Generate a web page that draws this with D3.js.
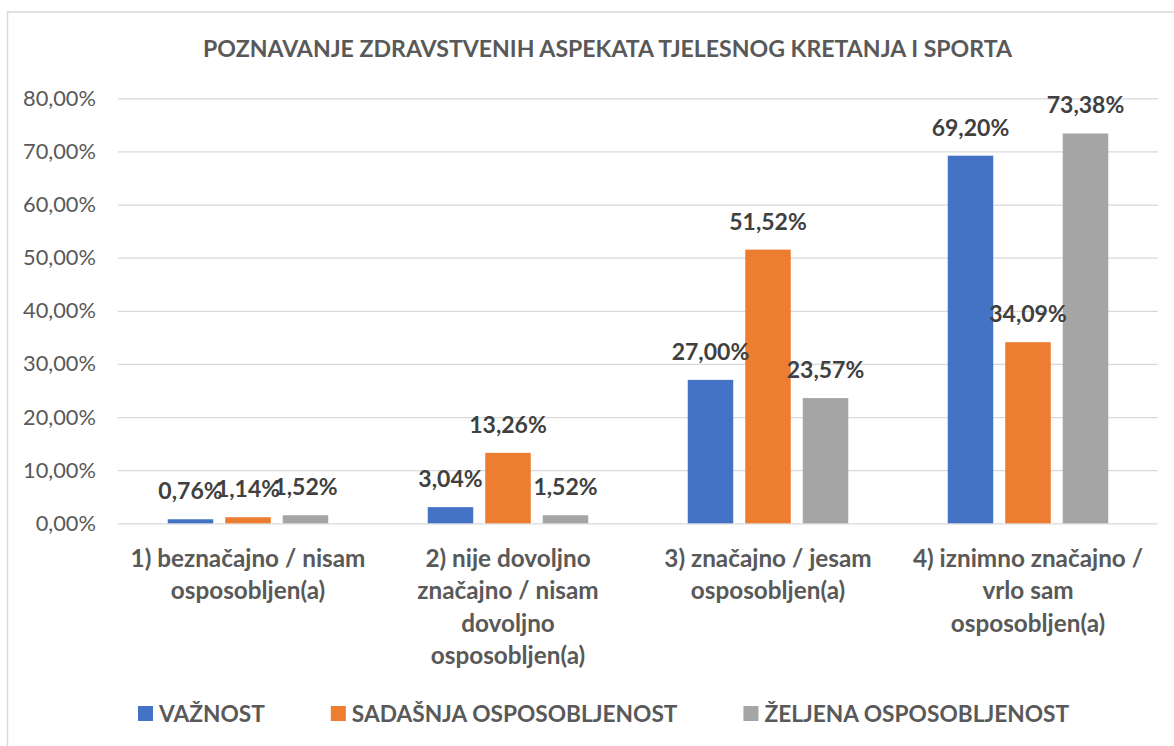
<!DOCTYPE html>
<html>
<head>
<meta charset="utf-8">
<script src="https://cdn.jsdelivr.net/npm/d3@7"></script>
<style>
    body { margin: 0; background: #fff; }
    text { font-family: Lato, "Open Sans", sans-serif; }
    .axis .domain { display: none; }
    .y-axis line { stroke: #d9d9d9; stroke-width: 1.3; }
    .y-axis text { fill: #595959; font-size: 21.8px; }
    .x-axis text { fill: #595959; font-size: 24.3px; font-weight: bold; }
    .bar-label { fill: #404040; font-size: 23px; font-weight: bold; }
    .chart-title { fill: #595959; font-size: 23.1px; font-weight: bold; }
    .legend text { fill: #595959; font-size: 22.7px; font-weight: bold; }
</style>
</head>
<body>
<div id="chart"></div>
<script>
// category labels (already split in lines like in the original)
const categories = [
    ["1) beznačajno / nisam", "osposobljen(a)"],
    ["2) nije dovoljno", "značajno / nisam", "dovoljno", "osposobljen(a)"],
    ["3) značajno / jesam", "osposobljen(a)"],
    ["4) iznimno značajno /", "vrlo sam", "osposobljen(a)"]
];
const seriesNames = ["VAŽNOST", "SADAŠNJA OSPOSOBLJENOST", "ŽELJENA OSPOSOBLJENOST"];
const seriesColors = ["#4472c4", "#ed7d31", "#a5a5a5"];

// values in %
const vaznost = [0.76, 3.04, 27.00, 69.20];
const sadasnja = [1.14, 13.26, 51.52, 34.09];
const zeljena = [1.52, 1.52, 23.57, 73.38];

const yTicks = [0, 10, 20, 30, 40, 50, 60, 70, 80];
const chartTitle = "POZNAVANJE ZDRAVSTVENIH ASPEKATA TJELESNOG KRETANJA I SPORTA";

class GroupedBarChart {
    constructor(parentElement) {
        this.parentElement = parentElement;
        this.initVis();
    }

    initVis() {
        let vis = this;
        vis.outerWidth = 1174;
        vis.outerHeight = 746;
        vis.margin = {top: 98.3, right: 16, bottom: 222.7, left: 118};
        vis.width = vis.outerWidth - vis.margin.left - vis.margin.right;
        vis.height = vis.outerHeight - vis.margin.top - vis.margin.bottom;

        vis.root = d3.select("#" + vis.parentElement).append("svg")
            .attr("width", vis.outerWidth)
            .attr("height", vis.outerHeight);

        // chart border (right and bottom side fall outside the picture)
        vis.root.append("rect")
            .attr("x", 7.5)
            .attr("y", 12)
            .attr("width", 1250)
            .attr("height", 800)
            .attr("fill", "none")
            .attr("stroke", "#d9d9d9")
            .attr("stroke-width", 1.5);

        vis.root.append("text")
            .attr("class", "chart-title")
            .attr("x", 607.5)
            .attr("y", 56.5)
            .attr("text-anchor", "middle")
            .text(chartTitle);

        vis.svg = vis.root.append("g")
            .attr("transform", "translate(" + vis.margin.left + "," + vis.margin.top + ")");

        // Scales
        vis.x0 = d3.scaleBand().domain(d3.range(categories.length)).range([0, vis.width]);
        vis.x1 = d3.scaleBand().domain(seriesNames).range([0, vis.x0.bandwidth()])
            .paddingInner(0.2087).paddingOuter(0.865);
        vis.y = d3.scaleLinear().domain([0, 80]).range([vis.height, 0]);

        vis.fmt = d => d3.format(".2f")(d).replace(".", ",") + "%";

        vis.yAxis = d3.axisLeft(vis.y)
            .tickValues(yTicks)
            .tickSize(-vis.width)
            .tickPadding(22)
            .tickFormat(vis.fmt);

        vis.xAxis = d3.axisBottom(vis.x0)
            .tickSize(0)
            .tickFormat("");

        vis.svg.append("g").attr("class", "y-axis axis");
        vis.svg.append("g").attr("class", "x-axis axis")
            .attr("transform", "translate(0," + vis.height + ")");

        vis.wrangleData();
    }

    wrangleData() {
        let vis = this;
        let seriesValues = [vaznost, sadasnja, zeljena];
        vis.displayData = categories.map((c, i) => {
            return seriesNames.map((s, j) => ({cat: i, series: s, color: seriesColors[j], value: seriesValues[j][i]}));
        });
        vis.updateVis();
    }

    updateVis() {
        let vis = this;

        vis.svg.select(".y-axis").call(vis.yAxis);
        vis.svg.select(".x-axis").call(vis.xAxis);

        // multi line category labels
        vis.svg.select(".x-axis").selectAll(".tick text")
            .attr("y", 0).attr("dy", null)
            .each(function (d) {
                let t = d3.select(this);
                categories[d].forEach((line, k) => {
                    t.append("tspan")
                        .attr("x", 0)
                        .attr("y", 43.5 + k * 32.5)
                        .text(line);
                });
            });

        let groups = vis.svg.selectAll(".group")
            .data(vis.displayData)
            .enter().append("g")
            .attr("class", "group")
            .attr("transform", (d, i) => "translate(" + vis.x0(i) + ",0)");

        groups.selectAll("rect")
            .data(d => d)
            .enter().append("rect")
            .attr("x", d => vis.x1(d.series))
            .attr("width", vis.x1.bandwidth())
            .attr("y", d => vis.y(d.value))
            .attr("height", d => vis.height - vis.y(d.value))
            .attr("fill", d => d.color);

        groups.selectAll(".bar-label")
            .data(d => d)
            .enter().append("text")
            .attr("class", "bar-label")
            .attr("text-anchor", "middle")
            .attr("x", d => vis.x1(d.series) + vis.x1.bandwidth() / 2)
            .attr("y", d => vis.y(d.value) - 20)
            .text(d => vis.fmt(d.value));

        // Legend
        let legend = vis.root.append("g").attr("class", "legend")
            .attr("transform", "translate(138,706)");
        let xPos = 0;
        seriesNames.forEach((s, j) => {
            let item = legend.append("g").attr("transform", "translate(" + xPos + ",0)");
            item.append("rect")
                .attr("width", 15)
                .attr("height", 15)
                .attr("fill", seriesColors[j]);
            let txt = item.append("text")
                .attr("x", 21)
                .attr("y", 15.5)
                .text(s);
            xPos += 21 + txt.node().getComputedTextLength() + 66;
        });
    }
}

new GroupedBarChart("chart");
</script>
</body>
</html>
